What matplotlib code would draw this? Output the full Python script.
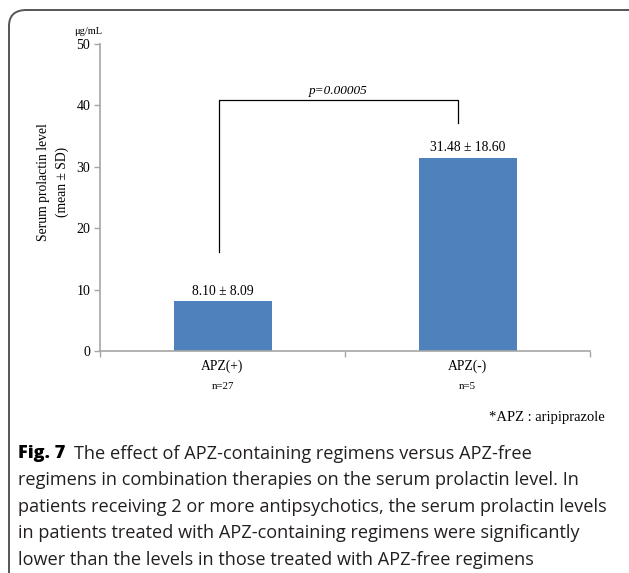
import matplotlib
matplotlib.use("Agg")
import matplotlib.pyplot as plt
from matplotlib.patches import FancyBboxPatch

# Data
groups = ["APZ(+)", "APZ(-)"]
group_n = ["n=27", "n=5"]
means = [8.10, 31.48]
sds = [8.09, 18.60]
p_value_text = "p=0.00005"
bracket_heights = [16.1, 40.9, 37.1]  # left foot, top, right foot
y_ticks = [0, 10, 20, 30, 40, 50]

W, H = 629, 573
fig = plt.figure(figsize=(W / 100, H / 100), dpi=100)
fig.patch.set_facecolor("white")

serif = ["Liberation Serif", "DejaVu Serif"]
sans = ["Open Sans", "DejaVu Sans"]

def fx(px):
    return px / W

def fy(py):
    return 1 - py / H

# Rounded frame around the figure panel
frame = FancyBboxPatch((fx(9), fy(600)), fx(640), fy(10) - fy(600),
                       boxstyle="round,pad=0,rounding_size=0.028",
                       transform=fig.transFigure, fill=False,
                       edgecolor="#555555", linewidth=1.4, clip_on=False)
fig.patches.append(frame)

ax = fig.add_axes([fx(100), fy(351), fx(590) - fx(100), fy(44) - fy(351)])
axis_col = "#a6a6a6"
x = list(range(len(groups)))
ax.bar(x, means, width=0.40, color="#4f81bd", zorder=2)
ax.set_xlim(-0.5, 1.5)
ax.set_ylim(0, 50)

for s in ["top", "right"]:
    ax.spines[s].set_visible(False)
for s in ["left", "bottom"]:
    ax.spines[s].set_color(axis_col)
    ax.spines[s].set_linewidth(1.2)

ax.set_yticks(y_ticks)
ax.set_yticklabels([str(t) for t in y_ticks], fontfamily=serif, fontsize=10)
ax.tick_params(axis="y", direction="out", length=4, color=axis_col, width=1, pad=3)

ax.set_xticks([-0.5, 0.5, 1.5])
ax.set_xticklabels([])
ax.tick_params(axis="x", direction="out", length=4, color=axis_col, width=1)

for xi, g, n in zip(x, groups, group_n):
    ax.annotate(g, (xi, 0), xytext=(0, -11), textcoords="offset points",
                ha="center", va="center", fontfamily=serif, fontsize=9.8)
    ax.annotate(n, (xi, 0), xytext=(0, -25.5), textcoords="offset points",
                ha="center", va="center", fontfamily=serif, fontsize=7.8)

for xi, m, s in zip(x, means, sds):
    ax.annotate(f"{m:.2f} \u00b1 {s:.2f}", (xi, m), xytext=(0, 7),
                textcoords="offset points", ha="center", va="center",
                fontfamily=serif, fontsize=9.8)

# Significance bracket
bx0, bx1 = -0.016, 0.963
ax.plot([bx0, bx0, bx1, bx1],
        [bracket_heights[0], bracket_heights[1], bracket_heights[1], bracket_heights[2]],
        color="black", linewidth=0.9, clip_on=False)
ax.text((bx0 + bx1) / 2, bracket_heights[1] + 0.5, p_value_text, ha="center",
        va="bottom", fontfamily=serif, fontstyle="italic", fontsize=9.5)

# Axis units and title
fig.text(fx(88), fy(31), "\u03bcg/mL", ha="center", va="center",
         fontfamily=serif, fontsize=7.5)
fig.text(fx(53), fy(182), "Serum prolactin level\n(mean \u00b1 SD)", ha="center",
         va="center", rotation=90, fontfamily=serif, fontsize=9.8, linespacing=1.6)

fig.text(fx(605), fy(417), "*APZ : aripiprazole", ha="right", va="center",
         fontfamily=serif, fontsize=10.5)

# Caption
cap_size = 13.1
lines = [
    "The effect of APZ-containing regimens versus APZ-free",
    "regimens in combination therapies on the serum prolactin level. In",
    "patients receiving 2 or more antipsychotics, the serum prolactin levels",
    "in patients treated with APZ-containing regimens were significantly",
    "lower than the levels in those treated with APZ-free regimens",
]
x_cap = 18
y0 = 454
step = 26.4
head = fig.text(fx(x_cap), fy(y0), "Fig. 7", ha="left", va="center",
                fontfamily=sans, fontweight="heavy", fontsize=cap_size)
fig.canvas.draw()
bb = head.get_window_extent(renderer=fig.canvas.get_renderer())
fig.text(fx(bb.x1 + 9), fy(y0), lines[0], ha="left", va="center",
         fontfamily=sans, fontsize=cap_size, color="#231f20")
for i, ln in enumerate(lines[1:], start=1):
    fig.text(fx(x_cap), fy(y0 + i * step), ln, ha="left", va="center",
             fontfamily=sans, fontsize=cap_size, color="#231f20")

fig.savefig("out.png", dpi=100, facecolor="white")
